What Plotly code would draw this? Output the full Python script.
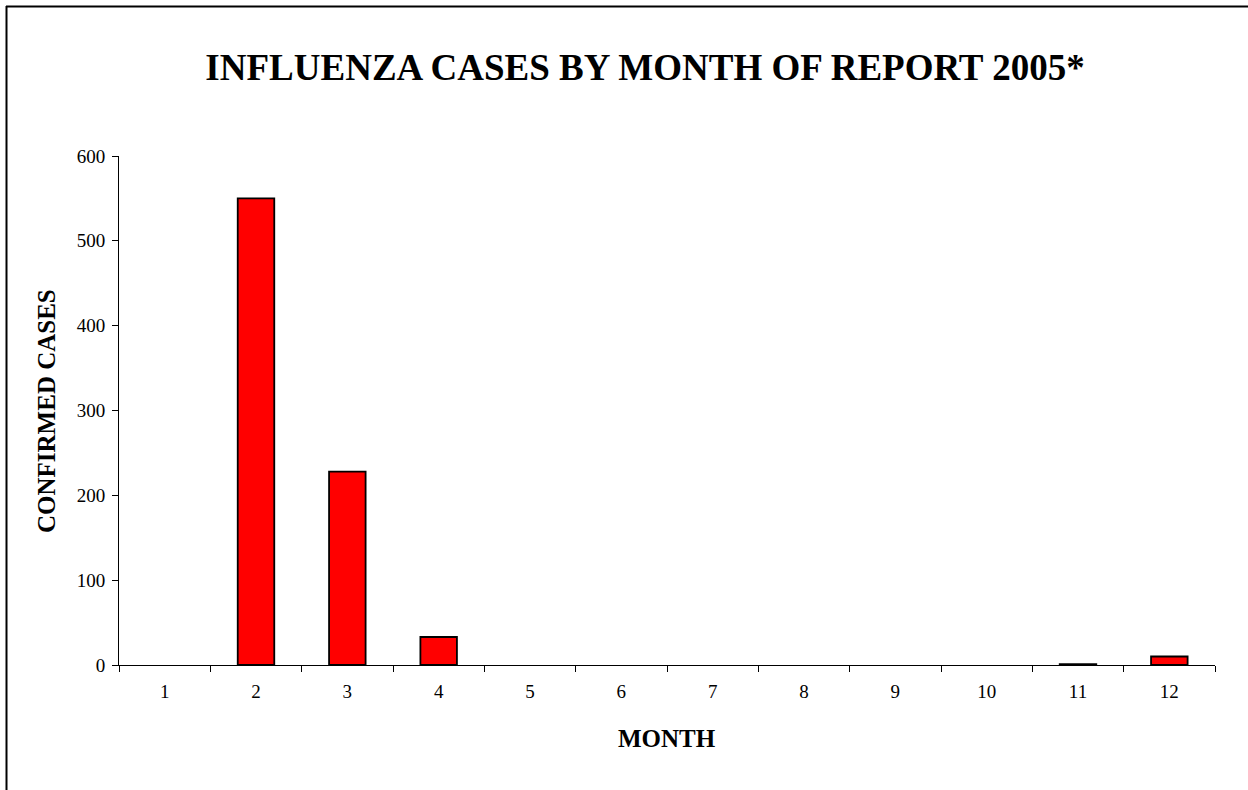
import plotly.graph_objects as go

months = ["1", "2", "3", "4", "5", "6", "7", "8", "9", "10", "11", "12"]
cases = [0, 550, 228, 33, 0, 0, 0, 0, 0, 0, 1, 10]
y_ticks = [0, 100, 200, 300, 400, 500, 600]

W, H = 1248, 790
L, R, T, B = 119, 1215, 156, 665

def px_x(p):
    return (p - L) / (R - L)

def px_y(p):
    return (B - p) / (B - T)

fig = go.Figure()
fig.add_trace(go.Bar(
    x=months, y=cases,
    marker=dict(color="#FF0000",
                line=dict(color="black", width=[0 if v == 0 else 1.8 for v in cases])),
    hoverinfo="x+y",
))

font = "Liberation Serif, Times New Roman, serif"

fig.update_layout(
    width=W, height=H,
    margin=dict(l=L, r=W - R, t=T, b=H - B, pad=0),
    paper_bgcolor="white", plot_bgcolor="white",
    showlegend=False,
    bargap=0.6,
    font=dict(family=font, size=19, color="black"),
    title=dict(
        text="<b>INFLUENZA CASES BY MONTH OF REPORT 2005*</b>",
        font=dict(family=font, size=37, color="black"),
        x=645 / W, xanchor="center", xref="container",
        y=1 - 67 / H, yanchor="middle", yref="container",
    ),
    xaxis=dict(
        type="category",
        tickson="boundaries",
        ticks="outside", ticklen=6, tickcolor="black", tickwidth=1,
        showline=True, linecolor="black", linewidth=1,
        showgrid=False, zeroline=False,
        tickfont=dict(family=font, size=19, color="black"),
        ticklabelstandoff=9,
    ),
    yaxis=dict(
        range=[0, 600],
        tickvals=y_ticks,
        ticks="outside", ticklen=6, tickcolor="black", tickwidth=1,
        showline=True, linecolor="black", linewidth=1,
        showgrid=False, zeroline=False,
        tickfont=dict(family=font, size=19, color="black"),
        ticklabelstandoff=3,
    ),
    annotations=[
        dict(text="<b>CONFIRMED CASES</b>", xref="paper", yref="paper",
             x=px_x(46), y=px_y(411), xanchor="center", yanchor="middle",
             textangle=-90, showarrow=False,
             font=dict(family=font, size=25, color="black")),
        dict(text="<b>MONTH</b>", xref="paper", yref="paper",
             x=px_x(667), y=px_y(738), xanchor="center", yanchor="middle",
             showarrow=False,
             font=dict(family=font, size=25, color="black")),
    ],
    shapes=[
        dict(type="line", xref="paper", yref="paper",
             x0=px_x(6), x1=px_x(1260), y0=px_y(6.5), y1=px_y(6.5),
             line=dict(color="black", width=2)),
        dict(type="line", xref="paper", yref="paper",
             x0=px_x(6.5), x1=px_x(6.5), y0=px_y(6), y1=px_y(800),
             line=dict(color="black", width=2)),
    ],
)

fig.write_html("out.html",
               config={"displayModeBar": False},
               post_script="document.body.style.margin='0';document.body.style.overflow='hidden';")
